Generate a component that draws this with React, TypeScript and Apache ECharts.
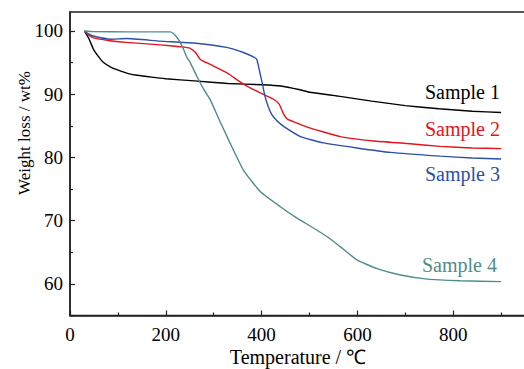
import React, { useEffect, useRef } from "react";
import * as echarts from "echarts";

const s1T = [30, 40, 49, 60, 70, 85, 98, 120, 140, 170, 200, 260, 330, 400, 440, 480, 500, 560, 630, 700, 770, 840, 900];
const s1W = [100, 98.7, 97.1, 95.9, 95.0, 94.3, 93.9, 93.3, 93.0, 92.7, 92.45, 92.1, 91.7, 91.5, 91.3, 90.7, 90.3, 89.7, 88.9, 88.2, 87.7, 87.3, 87.1];

const s2T = [30, 40, 49, 80, 118, 188, 230, 250, 262, 272, 293, 327, 362, 397, 425, 437, 445, 453, 495, 564, 634, 704, 773, 840, 900];
const s2W = [100, 99.3, 98.9, 98.5, 98.2, 97.8, 97.5, 97.3, 96.6, 95.5, 94.7, 93.4, 91.6, 90.2, 89.2, 88.4, 87.0, 86.1, 84.8, 83.3, 82.6, 82.2, 81.75, 81.5, 81.4];

const s3T = [30, 40, 49, 84, 118, 188, 258, 327, 362, 383, 390, 397, 402, 407, 414, 421, 432, 446, 481, 529, 599, 669, 773, 840, 900];
const s3W = [100, 99.5, 99.2, 98.7, 98.8, 98.4, 98.1, 97.4, 96.6, 95.9, 95.5, 93.2, 91.5, 89.7, 88.0, 86.8, 85.8, 84.9, 83.3, 82.3, 81.5, 80.8, 80.2, 79.9, 79.75];

const s4T = [30, 49, 118, 209, 216, 223, 230, 237, 244, 251, 265, 279, 293, 310, 334, 362, 397, 439, 474, 509, 540, 564, 599, 641, 690, 746, 815, 900];
const s4W = [100, 99.9, 99.85, 99.85, 99.6, 99.0, 98.2, 97.1, 95.8, 95.0, 92.8, 90.8, 89.1, 86.2, 82.3, 78.0, 74.6, 72.2, 70.4, 68.8, 67.3, 65.9, 63.8, 62.4, 61.4, 60.75, 60.5, 60.35];

const seriesNames = ["Sample 1", "Sample 2", "Sample 3", "Sample 4"];
const seriesColors = ["#000000", "#e3141c", "#2b50a6", "#4e8c8d"];
const yMajor = [60, 70, 80, 90, 100];
const yMinor = [55, 65, 75, 85, 95];
const xLabels = [0, 200, 400, 600, 800];

const FONT = "Liberation Serif";

function pairs(t: number[], w: number[]) {
  return t.map((v, i) => [v, w[i]]);
}

export default function App() {
  const ref = useRef<HTMLDivElement>(null);
  useEffect(() => {
    if (!ref.current) return;
    const chart = echarts.init(ref.current, null, { renderer: "svg" });
    const data = [pairs(s1T, s1W), pairs(s2T, s2W), pairs(s3T, s3W), pairs(s4T, s4W)];
    const labelPos = [
      [425, 91.5],
      [425, 128.5],
      [425, 173.5],
      [422, 265],
    ];
    const axisColor = "#222";
    chart.setOption({
      animation: false,
      backgroundColor: "#fff",
      grid: {
        left: 70,
        top: 12,
        bottom: 53.5,
        right: 0,
        show: true,
        borderColor: axisColor,
        borderWidth: 1.5,
        containLabel: false,
        outerBoundsMode: "none",
      },
      xAxis: {
        type: "value",
        min: 0,
        max: 1000,
        interval: 200,
        axisLine: { show: true, lineStyle: { color: axisColor, width: 1.5 } },
        axisTick: { show: true, inside: true, length: 5, lineStyle: { color: axisColor, width: 1.2 } },
        minorTick: { show: true, splitNumber: 2, length: 3, lineStyle: { color: axisColor, width: 1.2 } },
        splitLine: { show: false },
        axisLabel: {
          color: "#000",
          fontFamily: FONT,
          fontSize: 19,
          margin: 9,
          customValues: xLabels,
          formatter: (v: number) => String(v),
        },
      },
      yAxis: [
        {
          type: "value",
          min: 55,
          max: 103,
          interval: 5,
          axisLine: { show: true, lineStyle: { color: axisColor, width: 1.5 } },
          axisTick: {
            show: true,
            inside: true,
            length: 5,
            customValues: yMajor,
            lineStyle: { color: axisColor, width: 1.2 },
          },
          splitLine: { show: false },
          axisLabel: {
            color: "#000",
            fontFamily: FONT,
            fontSize: 19,
            margin: 7,
            customValues: yMajor,
          },
        },
        {
          type: "value",
          min: 55,
          max: 103,
          interval: 5,
          position: "left",
          offset: 0,
          axisLine: { show: false },
          axisTick: {
            show: true,
            inside: true,
            length: 3,
            customValues: yMinor,
            lineStyle: { color: axisColor, width: 1.2 },
          },
          splitLine: { show: false },
          axisLabel: { show: false },
        },
      ],
      series: data.map((d, i) => ({
        name: seriesNames[i],
        type: "line",
        data: d,
        yAxisIndex: 0,
        showSymbol: false,
        symbol: "none",
        smooth: 0.15,
        lineStyle: { color: seriesColors[i], width: 1.4 },
      })),
      graphic: [
        ...seriesNames.map((n, i) => ({
          type: "text",
          x: labelPos[i][0],
          y: labelPos[i][1],
          style: {
            text: n,
            fill: seriesColors[i],
            fontFamily: FONT,
            fontSize: 20,
            textAlign: "left",
            textVerticalAlign: "middle",
          },
        })),
        {
          type: "text",
          x: 298,
          y: 357,
          style: {
            text: "Temperature / ℃",
            fill: "#000",
            fontFamily: FONT,
            fontSize: 20,
            textAlign: "center",
            textVerticalAlign: "middle",
          },
        },
        {
          type: "text",
          x: 24,
          y: 133,
          rotation: Math.PI / 2,
          style: {
            text: "Weight loss / wt%",
            fill: "#000",
            fontFamily: FONT,
            fontSize: 17,
            textAlign: "center",
            textVerticalAlign: "middle",
          },
        },
      ],
    });
    return () => chart.dispose();
  }, []);
  return (
    <div style={{ position: "fixed", left: 0, top: 0, width: 524, height: 369, overflow: "hidden" }}>
      <div ref={ref} style={{ width: 549, height: 369 }} />
    </div>
  );
}
